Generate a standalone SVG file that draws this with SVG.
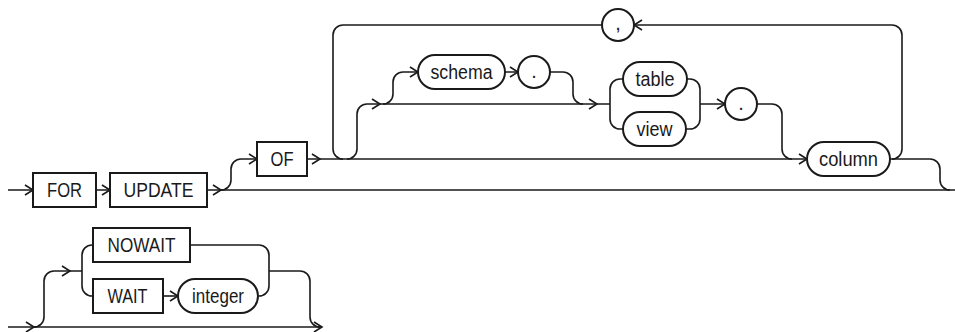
<svg xmlns="http://www.w3.org/2000/svg" xmlns:xlink="http://www.w3.org/1999/xlink" width="955" height="332" viewBox="0 0 955 332">
<style>
.ln{fill:none;stroke:#1a1a1a;stroke-width:1.6}
.bx{fill:#fff;stroke:#1a1a1a;stroke-width:2}
.t{font-family:"Liberation Sans",Arial,sans-serif;font-size:20px;fill:#1a1a1a;text-anchor:middle}
</style>
<defs>
<path id="ah" d="M-8,-5 L0,0 L-8,5" fill="none" stroke="#1a1a1a" stroke-width="1.6"/>
</defs>
<g id="connectors">
<path class="ln" d="M8,190 L33 190 M96,190 L110,190 M207,190 L955,190"/>
<path class="ln" d="M221,190 A10,10 0 0 0 231,180 L231,169 A10,10 0 0 1 241,159 L257,159"/>
<path class="ln" d="M307,159 L807,159"/>
<path class="ln" d="M602,25 L343,25 A10,10 0 0 0 333,35 L333,149 A10,10 0 0 0 343,159"/>
<path class="ln" d="M892,159 A10,10 0 0 0 902,149 L902,35 A10,10 0 0 0 892,25 L634,25"/>
<path class="ln" d="M347,159 A10,10 0 0 0 357,149 L357,114 A10,10 0 0 1 367,104 L610,104"/>
<path class="ln" d="M383,104 A10,10 0 0 0 393,94 L393,82 A10,10 0 0 1 403,72 L418,72"/>
<path class="ln" d="M505,72 L518,72 M550,72 L563,72 A10,10 0 0 1 573,82 L573,94 A10,10 0 0 0 583,104"/>
<path class="ln" d="M623,79 L620,79 A10,10 0 0 0 610,89 L610,119 A10,10 0 0 0 620,129 L623,129"/>
<path class="ln" d="M687,79 L690,79 A10,10 0 0 1 700,89 L700,119 A10,10 0 0 1 690,129 L686,129 M700,104 L725,104"/>
<path class="ln" d="M757,104 L772,104 A10,10 0 0 1 782,114 L782,149 A10,10 0 0 0 792,159"/>
<path class="ln" d="M890,159 L930,159 A10,10 0 0 1 940,169 L940,180 A10,10 0 0 0 950,190"/>
<path class="ln" d="M8,327 L322,327"/>
<path class="ln" d="M34,327 A10,10 0 0 0 44,317 L44,281 A10,10 0 0 1 54,271 L82,271"/>
<path class="ln" d="M93,245 L92,245 A10,10 0 0 0 82,255 L82,286 A10,10 0 0 0 92,296 L93,296"/>
<path class="ln" d="M163,296 L178,296"/>
<path class="ln" d="M190,245 L259,245 A10,10 0 0 1 269,255 L269,286 A10,10 0 0 1 259,296 L258,296"/>
<path class="ln" d="M269,271 L300,271 A10,10 0 0 1 310,281 L310,317 A10,10 0 0 0 320,327"/>
<use xlink:href="#ah" x="33" y="190"/>
<use xlink:href="#ah" x="110" y="190"/>
<use xlink:href="#ah" x="221" y="190"/>
<use xlink:href="#ah" x="257" y="159"/>
<use xlink:href="#ah" x="320" y="159"/>
<use xlink:href="#ah" x="380" y="104"/>
<use xlink:href="#ah" x="418" y="72"/>
<use xlink:href="#ah" x="518" y="72"/>
<use xlink:href="#ah" x="597" y="104"/>
<use xlink:href="#ah" x="725" y="104"/>
<use xlink:href="#ah" x="807" y="159"/>
<use xlink:href="#ah" transform="translate(634,25) rotate(180)"/>
<use xlink:href="#ah" x="34" y="327"/>
<use xlink:href="#ah" x="70" y="271"/>
<use xlink:href="#ah" x="178" y="296"/>
<use xlink:href="#ah" x="322" y="327"/>
</g>
<g id="n-for"><rect class="bx" x="33" y="173" width="63" height="34"/><text class="t" x="64.5" y="197" textLength="35" lengthAdjust="spacingAndGlyphs">FOR</text></g>
<g id="n-update"><rect class="bx" x="110" y="173" width="97" height="34"/><text class="t" x="158.5" y="197" textLength="70" lengthAdjust="spacingAndGlyphs">UPDATE</text></g>
<g id="n-of"><rect class="bx" x="257" y="142" width="50" height="34"/><text class="t" x="282" y="166" textLength="23" lengthAdjust="spacingAndGlyphs">OF</text></g>
<g id="n-comma"><circle class="bx" cx="618" cy="25" r="16"/><text class="t" x="618" y="30">,</text></g>
<g id="n-schema"><rect class="bx" x="418" y="55" width="87" height="34" rx="17"/><text class="t" x="461.5" y="79" textLength="62" lengthAdjust="spacingAndGlyphs">schema</text></g>
<g id="n-dot1"><circle class="bx" cx="534" cy="72" r="16"/><text class="t" x="534" y="78">.</text></g>
<g id="n-table"><rect class="bx" x="623" y="62" width="64" height="34" rx="17"/><text class="t" x="655" y="86" textLength="39" lengthAdjust="spacingAndGlyphs">table</text></g>
<g id="n-view"><rect class="bx" x="623" y="112" width="63" height="34" rx="17"/><text class="t" x="654.5" y="136" textLength="36" lengthAdjust="spacingAndGlyphs">view</text></g>
<g id="n-dot2"><circle class="bx" cx="741" cy="104" r="16"/><text class="t" x="741" y="110">.</text></g>
<g id="n-column"><rect class="bx" x="807" y="142" width="83" height="34" rx="17"/><text class="t" x="848.5" y="166" textLength="59" lengthAdjust="spacingAndGlyphs">column</text></g>
<g id="n-nowait"><rect class="bx" x="93" y="228" width="97" height="34"/><text class="t" x="141.5" y="252" textLength="68" lengthAdjust="spacingAndGlyphs">NOWAIT</text></g>
<g id="n-wait"><rect class="bx" x="93" y="279" width="70" height="34"/><text class="t" x="127.5" y="303" textLength="40" lengthAdjust="spacingAndGlyphs">WAIT</text></g>
<g id="n-integer"><rect class="bx" x="178" y="279" width="80" height="34" rx="17"/><text class="t" x="218" y="303" textLength="52" lengthAdjust="spacingAndGlyphs">integer</text></g>
</svg>
